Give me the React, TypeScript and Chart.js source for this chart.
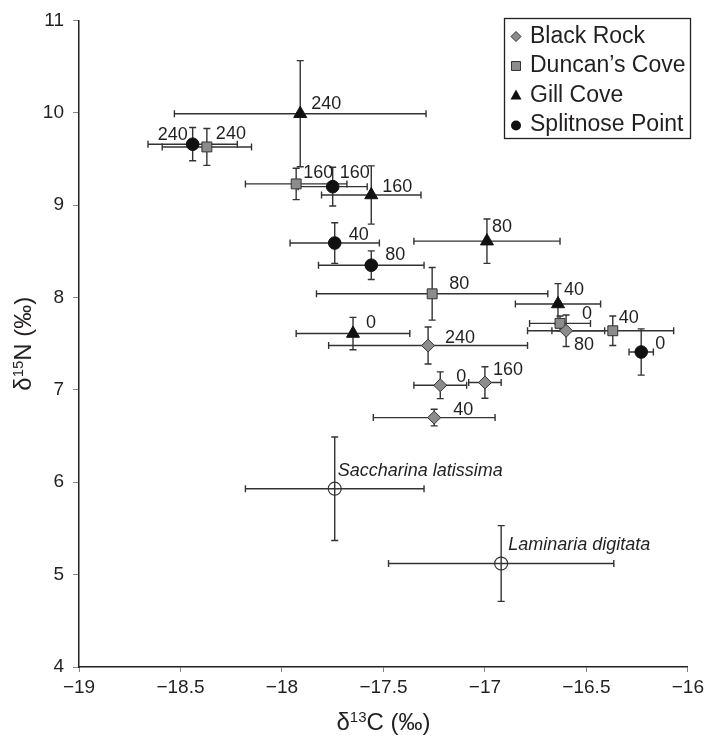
import React, { useEffect, useRef } from 'react';
import { Chart, registerables } from 'chart.js';

Chart.register(...registerables);

const FONT = '"Liberation Sans", Arial, Helvetica, sans-serif';
const INK = '#231f20';
const BAR = '#333333';
const GREY = '#8c8c8c';

// ---- data ----
const siteNames = ['Black Rock', 'Duncan\u2019s Cove', 'Gill Cove', 'Splitnose Point'];
const dayLabels = ['0', '40', '80', '160', '240'];

const blackRockC = [-17.22, -17.25, -16.6, -17.0, -17.28];
const blackRockN = [7.05, 6.7, 7.64, 7.08, 7.48];
const blackRockCErr = [0.13, 0.3, 0.19, 0.08, 0.49];
const blackRockNErr = [0.145, 0.09, 0.17, 0.17, 0.2];

const duncansC = [-16.63, -16.37, -17.26, -17.93, -18.37];
const duncansN = [7.72, 7.64, 8.04, 9.23, 9.63];
const duncansCErr = [0.15, 0.3, 0.57, 0.25, 0.22];
const duncansNErr = [0.08, 0.16, 0.285, 0.17, 0.2];

const gillC = [-17.65, -16.64, -16.99, -17.56, -17.91];
const gillN = [7.61, 7.93, 8.61, 9.11, 9.99];
const gillCErr = [0.28, 0.21, 0.36, 0.245, 0.62];
const gillNErr = [0.175, 0.22, 0.24, 0.315, 0.575];

const splitnoseC = [-16.23, -17.74, -17.56, -17.75, -18.44];
const splitnoseN = [7.41, 8.59, 8.35, 9.2, 9.66];
const splitnoseCErr = [0.06, 0.22, 0.26, 0.17, 0.22];
const splitnoseNErr = [0.25, 0.22, 0.155, 0.21, 0.18];

const algaeNames = ['Saccharina latissima', 'Laminaria digitata'];
const algaeC = [-17.74, -16.92];
const algaeN = [5.93, 5.12];
const algaeCErr = [0.44, 0.555];
const algaeNErr = [0.56, 0.41];

const xTicks = [-19, -18.5, -18, -17.5, -17, -16.5, -16];
const yTicks = [4, 5, 6, 7, 8, 9, 10, 11];

// ---- label placement (pixel offsets from marker; negative dx = right aligned) ----
const brOffsets = [[16, -8], [19, -8], [8, 14], [8, -12], [17, -8]];
const dcOffsets = [[22, -9], [6, -13], [17, -10], [7, -11], [9, -13]];
const gcOffsets = [[13, -11], [6, -14], [5, -14], [11, -8], [11, -10]];
const spOffsets = [[14, -8], [14, -8], [14, -10], [7, -14], [-5, -9]];
const algaeOffsets = [[3, -18], [7, -19]];

function pts(xs: number[], ys: number[]) {
  return xs.map((v, i) => ({ x: v, y: ys[i] }));
}

function fmt(v: number) {
  return (v < 0 ? '\u2212' : '') + Math.abs(v);
}

const errorBarPlugin = {
  id: 'errorBars',
  beforeDatasetsDraw(chart: any) {
    const { ctx } = chart;
    const xs = chart.scales.x;
    const ys = chart.scales.y;
    const cap = 3.5;
    ctx.save();
    ctx.strokeStyle = BAR;
    ctx.lineWidth = 1.4;
    chart.data.datasets.forEach((ds: any) => {
      ds.data.forEach((p: any, i: number) => {
        const cx = xs.getPixelForValue(p.x);
        const cy = ys.getPixelForValue(p.y);
        const xl = xs.getPixelForValue(p.x - ds.errX[i]);
        const xr = xs.getPixelForValue(p.x + ds.errX[i]);
        const yt = ys.getPixelForValue(p.y + ds.errY[i]);
        const yb = ys.getPixelForValue(p.y - ds.errY[i]);
        ctx.beginPath();
        ctx.moveTo(xl, cy); ctx.lineTo(xr, cy);
        ctx.moveTo(xl, cy - cap); ctx.lineTo(xl, cy + cap);
        ctx.moveTo(xr, cy - cap); ctx.lineTo(xr, cy + cap);
        ctx.moveTo(cx, yt); ctx.lineTo(cx, yb);
        ctx.moveTo(cx - cap, yt); ctx.lineTo(cx + cap, yt);
        ctx.moveTo(cx - cap, yb); ctx.lineTo(cx + cap, yb);
        ctx.stroke();
      });
    });
    ctx.restore();
  },
  afterDatasetsDraw(chart: any) {
    const { ctx } = chart;
    const xs = chart.scales.x;
    const ys = chart.scales.y;
    ctx.save();
    ctx.fillStyle = INK;
    ctx.textBaseline = 'middle';
    chart.data.datasets.forEach((ds: any) => {
      ds.data.forEach((p: any, i: number) => {
        const cx = xs.getPixelForValue(p.x);
        const cy = ys.getPixelForValue(p.y);
        const [dx, dy] = ds.labelOffsets[i];
        ctx.font = (ds.italic ? 'italic ' : '') + '18px ' + FONT;
        ctx.textAlign = dx < 0 ? 'right' : 'left';
        ctx.fillText(ds.pointLabels[i], cx + dx, cy + dy);
      });
    });
    ctx.restore();
  },
  afterDraw(chart: any) {
    const { ctx, chartArea } = chart;
    ctx.save();
    ctx.fillStyle = INK;
    // axis titles with superscripts
    const drawSup = (parts: [string, boolean][], cx: number, cy: number) => {
      const big = '24px ' + FONT;
      const small = '15px ' + FONT;
      let total = 0;
      parts.forEach(([t, sup]) => { ctx.font = sup ? small : big; total += ctx.measureText(t).width; });
      let x = cx - total / 2;
      ctx.textAlign = 'left';
      ctx.textBaseline = 'alphabetic';
      parts.forEach(([t, sup]) => {
        ctx.font = sup ? small : big;
        ctx.fillText(t, x, cy + (sup ? -8 : 0));
        x += ctx.measureText(t).width;
      });
    };
    drawSup([['\u03b4', false], ['13', true], ['C (\u2030)', false]], (chartArea.left + chartArea.right) / 2, 730);
    ctx.save();
    ctx.translate(31, (chartArea.top + chartArea.bottom) / 2);
    ctx.rotate(-Math.PI / 2);
    drawSup([['\u03b4', false], ['15', true], ['N (\u2030)', false]], 0, 0);
    ctx.restore();

    // legend
    const lx = 504.5, ly = 18.5, lw = 186, lh = 120;
    ctx.strokeStyle = INK;
    ctx.lineWidth = 1.3;
    ctx.strokeRect(lx, ly, lw, lh);
    const rowY = [36.5, 66, 95.5, 124.5];
    const mx = 516;
    ctx.font = '23px ' + FONT;
    ctx.textAlign = 'left';
    ctx.textBaseline = 'middle';
    rowY.forEach((ry, i) => {
      ctx.beginPath();
      ctx.strokeStyle = BAR;
      ctx.lineWidth = 1;
      if (i === 0) {
        ctx.moveTo(mx, ry - 5); ctx.lineTo(mx + 5, ry); ctx.lineTo(mx, ry + 5); ctx.lineTo(mx - 5, ry); ctx.closePath();
        ctx.fillStyle = GREY; ctx.fill(); ctx.stroke();
      } else if (i === 1) {
        ctx.rect(mx - 4.5, ry - 4.5, 9, 9);
        ctx.fillStyle = GREY; ctx.fill(); ctx.stroke();
      } else if (i === 2) {
        ctx.moveTo(mx, ry - 6); ctx.lineTo(mx + 5.5, ry + 4); ctx.lineTo(mx - 5.5, ry + 4); ctx.closePath();
        ctx.fillStyle = '#111'; ctx.fill();
      } else {
        ctx.arc(mx, ry + 1, 5, 0, Math.PI * 2);
        ctx.fillStyle = '#111'; ctx.fill();
      }
      ctx.fillStyle = INK;
      ctx.fillText(siteNames[i], 530, ry);
    });
    ctx.restore();
  },
};

export default function App() {
  const ref = useRef<HTMLCanvasElement | null>(null);

  useEffect(() => {
    if (!ref.current) return;
    const mk = (name: string, xs: number[], ys: number[], ex: number[], ey: number[], offs: number[][], style: string, radius: number, fill: string, border: string) => ({
      label: name,
      data: pts(xs, ys),
      errX: ex,
      errY: ey,
      pointLabels: dayLabels,
      labelOffsets: offs,
      pointStyle: style,
      pointRadius: radius,
      pointBackgroundColor: fill,
      pointBorderColor: border,
      pointBorderWidth: 1,
      showLine: false,
    });
    const datasets: any[] = [
      mk(siteNames[0], blackRockC, blackRockN, blackRockCErr, blackRockNErr, brOffsets, 'rectRot', 6.5, GREY, BAR),
      mk(siteNames[1], duncansC, duncansN, duncansCErr, duncansNErr, dcOffsets, 'rect', 7, GREY, BAR),
      mk(siteNames[2], gillC, gillN, gillCErr, gillNErr, gcOffsets, 'triangle', 7.5, '#111', '#111'),
      mk(siteNames[3], splitnoseC, splitnoseN, splitnoseCErr, splitnoseNErr, spOffsets, 'circle', 6.3, '#111', '#111'),
      {
        label: 'Macroalgae',
        data: pts(algaeC, algaeN),
        errX: algaeCErr,
        errY: algaeNErr,
        pointLabels: algaeNames,
        labelOffsets: algaeOffsets,
        italic: true,
        pointStyle: 'circle',
        pointRadius: 6.5,
        pointBackgroundColor: 'rgba(0,0,0,0)',
        pointBorderColor: BAR,
        pointBorderWidth: 1.2,
        showLine: false,
      },
    ];

    const chart = new Chart(ref.current, {
      type: 'scatter',
      data: { datasets },
      options: {
        responsive: false,
        animation: false,
        events: [],
        layout: { padding: { left: 0, right: 16, top: 19, bottom: 0 } },
        plugins: { legend: { display: false }, tooltip: { enabled: false } },
        scales: {
          x: {
            type: 'linear',
            min: -19,
            max: -16,
            afterFit: (s: any) => { s.height = 71; },
            afterBuildTicks: (s: any) => { s.ticks = xTicks.map((v) => ({ value: v })); },
            grid: { drawOnChartArea: false, drawTicks: true, tickLength: 5, color: '#888', lineWidth: 1 },
            border: { display: true, color: INK, width: 1.5 },
            ticks: { padding: 4, color: INK, font: { family: FONT, size: 19 }, callback: (v: any) => fmt(Number(v)), maxRotation: 0, autoSkip: false },
          },
          y: {
            type: 'linear',
            min: 4,
            max: 11,
            afterFit: (s: any) => { s.width = 79; },
            afterBuildTicks: (s: any) => { s.ticks = yTicks.map((v) => ({ value: v })); },
            grid: { drawOnChartArea: false, drawTicks: true, tickLength: 6, color: '#888', lineWidth: 1 },
            border: { display: true, color: INK, width: 1.5 },
            ticks: { padding: 9, color: INK, font: { family: FONT, size: 19 }, callback: (v: any) => String(v), autoSkip: false },
          },
        },
      },
      plugins: [errorBarPlugin],
    } as any);
    return () => chart.destroy();
  }, []);

  return (
    <div style={{ position: 'absolute', left: 0, top: 0, width: 708, height: 738, background: '#fff' }}>
      <canvas ref={ref} width={708} height={738} style={{ width: 708, height: 738, display: 'block' }} />
    </div>
  );
}
